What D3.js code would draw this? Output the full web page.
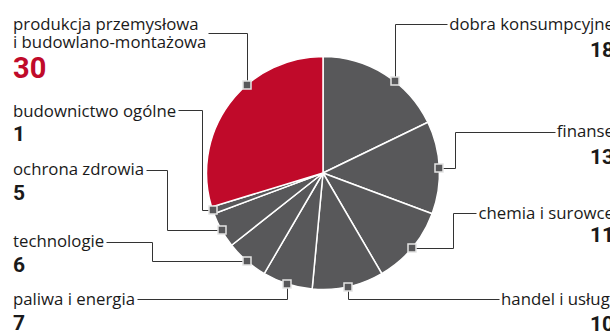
<!DOCTYPE html>
<html>
<head>
<meta charset="utf-8">
<script src="https://cdn.jsdelivr.net/npm/d3@7"></script>
<style>
 body { margin: 0; background: #fff; }
 svg { display: block; }
 .label { font-family: "Open Sans", sans-serif; font-size: 16.8px; fill: #1a1a1a; }
 .value { font-family: Roboto, sans-serif; font-weight: 700; font-size: 21px; fill: #1a1a1a; }
 .value.big { font-size: 29px; fill: #c00a2a; }
 .leader { fill: none; stroke: #333; stroke-width: 1px; }
 .marker { fill: #58585a; stroke: #e4e4e4; stroke-width: 1.5px; }
</style>
</head>
<body>
<script>
// data
var sectors = ["dobra konsumpcyjne", "finanse", "chemia i surowce", "handel i usługi",
               "paliwa i energia", "technologie", "ochrona zdrowia", "budownictwo ogólne",
               "produkcja przemysłowa\ni budowlano-montażowa"];
var counts = [18, 13, 11, 10, 7, 6, 5, 1, 30];
var highlighted = "produkcja przemysłowa\ni budowlano-montażowa";

// label placement (same order as sectors)
var place = [
    {side: 'r', y: 29.5, ny: 57, lineY: 24, nudge: 6},
    {side: 'r', y: 137, ny: 164, lineY: 131.5, elbow: 455},
    {side: 'r', y: 218.5, ny: 242, lineY: 212.5, elbow: 453},
    {side: 'r', y: 305, ny: 331, lineY: 299},
    {side: 'l', y: 305, ny: 330, lineY: 299},
    {side: 'l', y: 246.5, ny: 271.5, lineY: 241.5, elbow: 151.5},
    {side: 'l', y: 175, ny: 200, lineY: 170, elbow: 166.5},
    {side: 'l', y: 116.5, ny: 140.5, lineY: 110, elbow: 201.5},
    {side: 'l', y: 30, ny: 78, lineY: 33, nudge: 12.5}
];

var width = 610, height = 335;
var cx = 323, cy = 173, r = 116.5;
var leftX = 13, rightX = 614;

var svg = d3.select('body').append('svg')
    .attr('width', width)
    .attr('height', height);

var pie = d3.pie().sort(null).value(d => d);
var arcs = pie(counts);
var arc = d3.arc().innerRadius(0).outerRadius(r);

var color = d3.scaleOrdinal()
    .domain(sectors)
    .range(sectors.map(s => s === highlighted ? '#c00a2a' : '#58585a'));

svg.append('g')
    .attr('transform', 'translate(' + cx + ',' + cy + ')')
    .selectAll('path')
    .data(arcs)
    .enter()
    .append('path')
    .attr('d', arc)
    .attr('fill', (d, i) => color(sectors[i]))
    .attr('stroke', '#fff')
    .attr('stroke-width', 1.5);

// marker points on the rim
var marks = arcs.map(function (d, i) {
    var a = (d.startAngle + d.endAngle) / 2 + (place[i].nudge || 0) * Math.PI / 180;
    return {x: cx + r * Math.sin(a), y: cy - r * Math.cos(a)};
});

var leaders = svg.append('g');
var texts = svg.append('g');

sectors.forEach(function (name, i) {
    var p = place[i];
    var lines = name.split('\n');
    var t = texts.append('text')
        .attr('class', 'label')
        .attr('x', p.side === 'l' ? leftX : rightX)
        .attr('y', p.y)
        .attr('text-anchor', p.side === 'l' ? 'start' : 'end');
    lines.forEach(function (l, k) {
        t.append('tspan')
            .attr('x', p.side === 'l' ? leftX : rightX)
            .attr('dy', k ? 18.3 : 0)
            .text(l);
    });
    texts.append('text')
        .attr('class', 'value' + (name === highlighted ? ' big' : ''))
        .attr('x', p.side === 'l' ? leftX : rightX)
        .attr('y', p.ny)
        .attr('text-anchor', p.side === 'l' ? 'start' : 'end')
        .text(counts[i]);

    var w = d3.max(t.selectAll('tspan').nodes(), n => n.getComputedTextLength());
    var sx = p.side === 'l' ? leftX + w + 2 : rightX - w - 2;
    var m = marks[i];
    var ex = p.elbow !== undefined ? p.elbow : m.x;
    var pts = [[sx, p.lineY], [ex, p.lineY], [ex, m.y], [m.x, m.y]];
    leaders.append('path')
        .attr('class', 'leader')
        .attr('d', d3.line()(pts.map(q => [Math.round(q[0]) + 0.5, Math.round(q[1]) + 0.5])));
});

svg.append('g')
    .selectAll('rect')
    .data(marks)
    .enter()
    .append('rect')
    .attr('class', 'marker')
    .attr('x', d => Math.round(d.x) - 4)
    .attr('y', d => Math.round(d.y) - 4)
    .attr('width', 8)
    .attr('height', 8);
</script>
</body>
</html>
